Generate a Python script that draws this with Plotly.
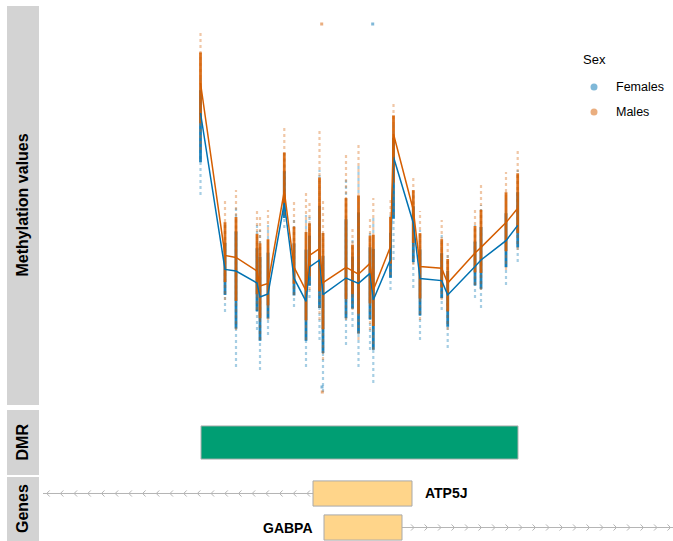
import numpy as np
import plotly.graph_objects as go

# ---------------- data ----------------
positions = [2005, 2250, 2360, 2570, 2600, 2680, 2843, 2940, 3060, 3095, 3195, 3230, 3460, 3525,
             3585, 3700, 3733, 3905, 3935, 4133, 4200, 4417, 4477, 4750, 4810, 5060, 5177]
female_mean = [73.0, 33.9, 33.5, 30.5, 27.0, 27.75, 50.5, 31.7, 25.9, 34.5, 36.25, 27.6, 31.75, 31.0,
               30.4, 32.9, 26.25, 36.4, 62.0, 45.5, 31.6, 31.1, 27.5, 34.6, 36.25, 41.1, 44.9]
male_mean = [80.5, 37.4, 36.9, 33.5, 29.75, 30.4, 53.5, 34.5, 28.6, 37.4, 39.1, 30.6, 34.4, 33.5,
             32.7, 35.4, 28.75, 39.6, 67.75, 48.75, 34.6, 34.2, 30.5, 38.0, 39.4, 45.6, 49.2]
female_max = [82.5, 45, 50, 45, 43.75, 45, 63.75, 46.25, 47.5, 47.5, 58.75, 43.75, 56.25, 41.25,
              60, 43.75, 47.5, 47.5, 70, 52.5, 43.75, 42.5, 37.5, 45, 50, 52.5, 58.75]
female_min = [52.5, 23.25, 9.5, 18.75, 8.75, 17.5, 44.25, 24.5, 9.5, 26.75, 16.25, 3.25, 15, 19.5,
              9.5, 13.75, 5.5, 28.75, 36.25, 29.25, 16.25, 23.75, 14.25, 26.75, 24.25, 30, 35.75]
male_max = [93.25, 51.25, 53.75, 49, 47.5, 48.75, 69.5, 51.25, 53, 50.75, 68.75, 51.25, 63.25, 44.5,
            65.5, 47, 51.75, 52, 75.5, 57, 48.5, 46.25, 40.5, 49.25, 55, 58.25, 63.75]
male_min = [63.75, 26.25, 18.75, 23.75, 16.25, 21.25, 47.5, 27.5, 16.25, 28.75, 21.25, 11.25, 21.25, 23.75,
            16.25, 18.75, 13.75, 32.5, 47.5, 35, 21.25, 26.25, 18.75, 30, 28.75, 33.75, 38.75]

outlier_pos = [3217, 3727, 3223, 3220]
outlier_val = [95.25, 95.25, 3.25, 4.5]
outlier_sex = ["Males", "Females", "Males", "Females"]

dmr_start = [2010]
dmr_end = [5180]

gene_names = ["ATP5J", "GABPA"]
gene_strand = ["-", "+"]
gene_row = [1, 2]
tx_start = [430, 3240]
tx_end = [4120, 6730]
exon_start = [3130, 3240]
exon_end = [4120, 4020]

sex_names = ["Females", "Males"]

# ---------------- style ----------------
W, H = 673, 541
FONT = "Liberation Sans, Arial, Helvetica, sans-serif"
BLUE = "#0072B2"
ORANGE = "#D55E00"
BLUE_PT = "rgba(0,114,178,{a})"
ORANGE_PT = "rgba(213,94,0,{a})"
GREEN = "#009E73"
GENE_FILL = "#FFD58A"
GENE_LINE = "#A9A9A9"
STRIP = "#D3D3D3"

X0 = 40 / W
XR = [400, 6730]
dom_meth = [136 / H, 535 / H]
dom_dmr = [66 / H, 131 / H]
dom_gene = [0, 64 / H]

fig = go.Figure()


def segs(xs, lo, hi):
    X, Y = [], []
    for x, a, b in zip(xs, lo, hi):
        X += [x, x, None]
        Y += [a, b, None]
    return X, Y


series = [
    (female_mean, female_min, female_max, BLUE_PT),
    (male_mean, male_min, male_max, ORANGE_PT),
]
for mean, lo, hi, col in series:
    # full spread (faint tails)
    X, Y = segs(positions, lo, hi)
    fig.add_trace(go.Scatter(x=X, y=Y, mode="lines", xaxis="x", yaxis="y",
                             line=dict(color=col.format(a=0.35), width=2.2, dash="dot"),
                             hoverinfo="skip"))
    # dense core around the mean
    core_lo = [m - 0.6 * (m - l) for m, l in zip(mean, lo)]
    core_hi = [m + 0.6 * (h - m) for m, h in zip(mean, hi)]
    X, Y = segs(positions, core_lo, core_hi)
    fig.add_trace(go.Scatter(x=X, y=Y, mode="lines", xaxis="x", yaxis="y",
                             line=dict(color=col.format(a=0.88), width=2.8),
                             hoverinfo="skip"))

# isolated points
for sex, col in zip(sex_names, [BLUE_PT, ORANGE_PT]):
    xs = [p for p, s in zip(outlier_pos, outlier_sex) if s == sex]
    ys = [v for v, s in zip(outlier_val, outlier_sex) if s == sex]
    fig.add_trace(go.Scatter(x=xs, y=ys, mode="markers", xaxis="x", yaxis="y",
                             marker=dict(color=col.format(a=0.5), size=3, symbol="square"),
                             hoverinfo="skip"))

# mean lines
for mean, col in [(female_mean, BLUE), (male_mean, ORANGE)]:
    fig.add_trace(go.Scatter(x=positions, y=mean, mode="lines", xaxis="x", yaxis="y",
                             line=dict(color=col, width=1.5), hoverinfo="skip"))

shapes = []
annotations = []

# DMR
for s, e in zip(dmr_start, dmr_end):
    shapes.append(dict(type="rect", xref="x2", yref="y2", x0=s, x1=e, y0=-0.51, y1=0.51,
                       fillcolor=GREEN, line=dict(color="#B0B0B0", width=1)))

# Genes
CH_W = 30
CH_H = 0.09
BOX_H = 0.37
for name, strand, row, ts, te, es, ee in zip(gene_names, gene_strand, gene_row,
                                             tx_start, tx_end, exon_start, exon_end):
    if strand == "-":
        i0, i1 = ts, es
        tips = np.arange(ts + 37, es - 20, 137)
        d = CH_W
    else:
        i0, i1 = ee, te
        tips = np.arange(ee + 120, te + 40, 135)
        d = -CH_W
    fig.add_trace(go.Scatter(x=[i0, i1], y=[row, row], mode="lines", xaxis="x3", yaxis="y3",
                             line=dict(color="#B5B5B5", width=1), hoverinfo="skip"))
    cx, cy = [], []
    for t in tips:
        cx += [t + d, t, t + d, None]
        cy += [row - CH_H, row, row + CH_H, None]
    fig.add_trace(go.Scatter(x=cx, y=cy, mode="lines", xaxis="x3", yaxis="y3",
                             line=dict(color="#B5B5B5", width=1), hoverinfo="skip"))
    shapes.append(dict(type="rect", xref="x3", yref="y3", x0=es, x1=ee,
                       y0=row - BOX_H, y1=row + BOX_H, fillcolor=GENE_FILL,
                       line=dict(color=GENE_LINE, width=1)))
    if strand == "-":
        annotations.append(dict(x=ee + 105, y=row, xref="x3", yref="y3", text=f"<b>{name}</b>",
                                showarrow=False, xanchor="left", yanchor="middle",
                                font=dict(family=FONT, size=14, color="black")))
    else:
        annotations.append(dict(x=es - 95, y=row, xref="x3", yref="y3", text=f"<b>{name}</b>",
                                showarrow=False, xanchor="right", yanchor="middle",
                                font=dict(family=FONT, size=14, color="black")))

# Title strips
for title, dom in [("Methylation values", dom_meth), ("DMR", dom_dmr), ("Genes", dom_gene)]:
    shapes.append(dict(type="rect", xref="paper", yref="paper", x0=7 / W, x1=39 / W,
                       y0=dom[0], y1=dom[1], fillcolor=STRIP, line=dict(width=0), layer="below"))
    annotations.append(dict(x=22 / W, y=(dom[0] + dom[1]) / 2, xref="paper", yref="paper",
                            text=f"<b>{title}</b>", textangle=-90, showarrow=False,
                            xanchor="center", yanchor="middle",
                            font=dict(family=FONT, size=16, color="black")))

# Legend
annotations.append(dict(x=581 / W, y=(H - 60) / H, xref="paper", yref="paper", text="Sex",
                        showarrow=False, xanchor="left", yanchor="middle",
                        font=dict(family=FONT, size=13, color="black")))
for i, (sex, col) in enumerate(zip(sex_names, ["rgba(0,114,178,0.5)", "rgba(213,94,0,0.5)"])):
    yy = 87 + 25 * i
    shapes.append(dict(type="circle", xref="paper", yref="paper",
                       x0=590.5 / W, x1=597.5 / W, y0=(H - yy - 3.5) / H, y1=(H - yy + 3.5) / H,
                       fillcolor=col, line=dict(width=0)))
    annotations.append(dict(x=614 / W, y=(H - yy) / H, xref="paper", yref="paper", text=sex,
                            showarrow=False, xanchor="left", yanchor="middle",
                            font=dict(family=FONT, size=12.5, color="black")))

hidden = dict(visible=False, showgrid=False, zeroline=False)
fig.update_layout(
    width=W, height=H, margin=dict(l=0, r=0, t=0, b=0),
    paper_bgcolor="white", plot_bgcolor="white", showlegend=False,
    xaxis=dict(domain=[X0, 1], range=XR, anchor="y", **hidden),
    yaxis=dict(domain=dom_meth, range=[0, 99.75], anchor="x", **hidden),
    xaxis2=dict(domain=[X0, 1], range=XR, anchor="y2", **hidden),
    yaxis2=dict(domain=dom_dmr, range=[-1, 1], anchor="x2", **hidden),
    xaxis3=dict(domain=[X0, 1], range=XR, anchor="y3", **hidden),
    yaxis3=dict(domain=dom_gene, range=[2.397, 0.515], anchor="x3", **hidden),
    shapes=shapes, annotations=annotations,
)

fig.write_html("out.html",
               config={"displayModeBar": False, "staticPlot": True},
               post_script="document.body.style.margin='0';document.body.style.overflow='hidden';")
